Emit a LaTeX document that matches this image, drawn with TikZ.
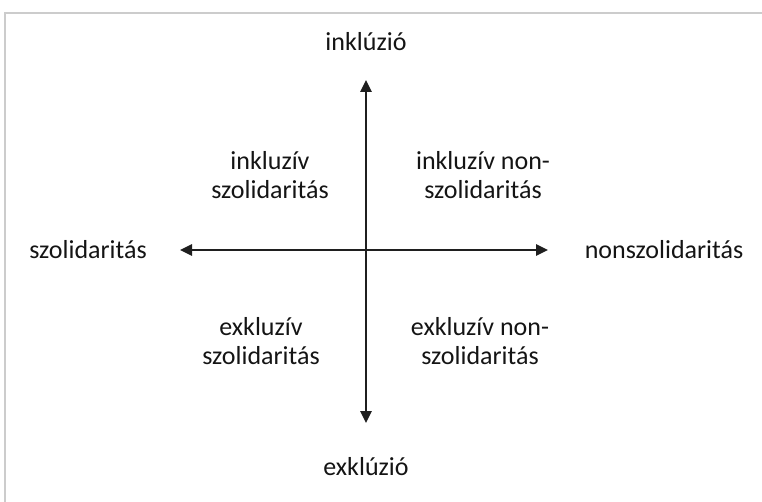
\documentclass[tikz,border=0pt]{standalone}
\usepackage{fontspec}
\setmainfont{Carlito}
\usetikzlibrary{arrows.meta}

\newcommand*{\cx}{366}
\newcommand*{\cy}{250}

\begin{document}
\begin{tikzpicture}
[
	x=1pt,y=-1pt,
	lbl/.style={font=\fontsize{26}{29}\selectfont,text=black!92,inner sep=0pt},
	quad/.style={lbl,align=center},
	axis/.style={line width=2.6pt,draw=black!88,{Triangle[width=11pt,length=12pt]}-{Triangle[width=11pt,length=12pt]}}
]
	\useasboundingbox (0,0) rectangle (762,502);

	% frame
	\draw[gray!40,line width=1.5pt] (5,502) -- (5,13) -- (762,13);

	% axis ends
	\coordinate (top) at (\cx,80);
	\coordinate (bottom) at (\cx,423);
	\coordinate (left) at (180,\cy);
	\coordinate (right) at (548,\cy);

	% axes
	\draw[axis] (bottom) -- (top);
	\draw[axis] (left) -- (right);

	% axis labels
	\node[lbl] (incl) at (\cx,42) {inklúzió};
	\node[lbl] (excl) at (\cx,467) {exklúzió};
	\node[lbl] (sol) at (88,\cy) {szolidaritás};
	\node[lbl] (nonsol) at (664,\cy) {nonszolidaritás};

	% quadrants
	\node[quad] (inclsol) at (270,175) {inkluzív\\szolidaritás};
	\node[quad] (inclnon) at (483,175) {inkluzív non-\\szolidaritás};
	\node[quad] (exclsol) at (261,341) {exkluzív\\szolidaritás};
	\node[quad] (exclnon) at (480,341) {exkluzív non-\\szolidaritás};

\end{tikzpicture}
\end{document}
